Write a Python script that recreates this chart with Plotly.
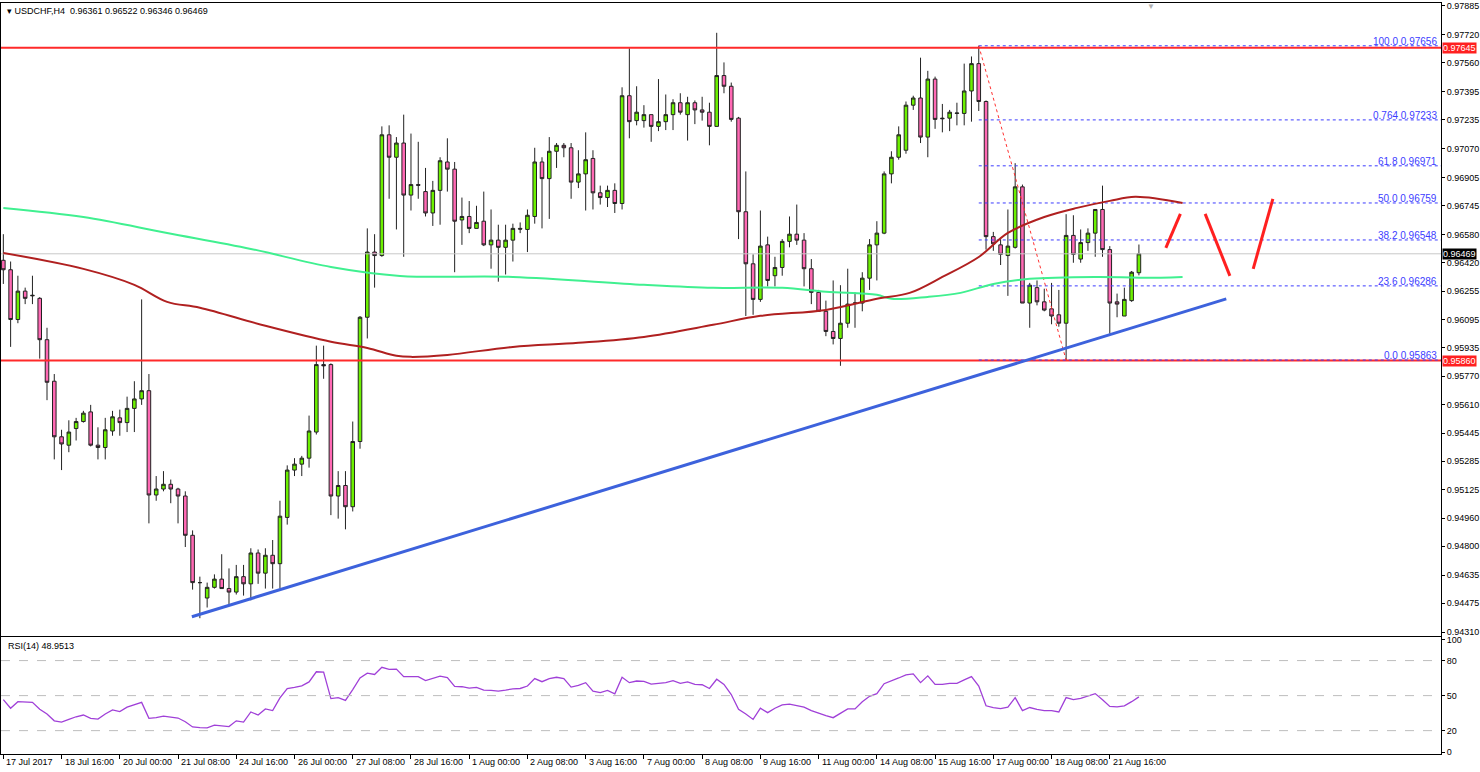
import plotly.graph_objects as go

# USDCHF H4 bars, index 0..156
open_ = [0.96432, 0.96378, 0.96094, 0.96256, 0.96229, 0.96215, 0.95979, 0.95742, 0.95425, 0.95377,
         0.95472, 0.95512, 0.95567, 0.95377, 0.95364, 0.95458, 0.95533, 0.95506, 0.95587, 0.95641,
         0.95688, 0.95093, 0.95127, 0.95154, 0.95127, 0.95087, 0.94863, 0.94593, 0.94505, 0.94566,
         0.94613, 0.94559, 0.94539, 0.94627, 0.94586, 0.94762, 0.94647, 0.94749, 0.94701, 0.94965,
         0.95235, 0.95269, 0.95303, 0.95452, 0.95837, 0.95837, 0.95087, 0.95147, 0.95026, 0.95398,
         0.96107, 0.96479, 0.96459, 0.97148, 0.97020, 0.97101, 0.96804, 0.96864, 0.96824, 0.96702,
         0.96831, 0.96993, 0.96952, 0.96662, 0.96682, 0.96614, 0.96655, 0.96520, 0.96547, 0.96506,
         0.96547, 0.96614, 0.96608, 0.96682, 0.96993, 0.96898, 0.97054, 0.97088, 0.97074, 0.96878,
         0.96925, 0.97013, 0.96817, 0.96790, 0.96831, 0.96756, 0.97371, 0.97229, 0.97229, 0.97263,
         0.97196, 0.97223, 0.97263, 0.97331, 0.97263, 0.97331, 0.97290, 0.97277, 0.97196, 0.97486,
         0.97425, 0.97243, 0.96709, 0.96412, 0.96209, 0.96520, 0.96344, 0.96391, 0.96540, 0.96581,
         0.96547, 0.96384, 0.96249, 0.96141, 0.96026, 0.95986, 0.96073, 0.96188, 0.96188, 0.96330,
         0.96520, 0.96587, 0.96925, 0.97020, 0.97060, 0.97317, 0.97358, 0.97135, 0.97466, 0.97243,
         0.97243, 0.97270, 0.97270, 0.97398, 0.97554, 0.97338, 0.96567, 0.96520, 0.96459, 0.96506,
         0.96851, 0.96188, 0.96276, 0.96195, 0.96155, 0.96121, 0.96073, 0.96574, 0.96439, 0.96533,
         0.96587, 0.96722, 0.96493, 0.96195, 0.96114, 0.96202, 0.96361]
high = [0.96581, 0.96425, 0.96344, 0.96276, 0.96344, 0.96222, 0.96047, 0.95783, 0.95465, 0.95519,
        0.95533, 0.95573, 0.95607, 0.95479, 0.95533, 0.95573, 0.95580, 0.95654, 0.95742, 0.96209,
        0.95783, 0.95201, 0.95229, 0.95181, 0.95134, 0.95114, 0.94891, 0.94627, 0.94593, 0.94640,
        0.94755, 0.94674, 0.94694, 0.94694, 0.94789, 0.94782, 0.94789, 0.94836, 0.95060, 0.95262,
        0.95303, 0.95316, 0.95546, 0.95945, 0.95945, 0.95844, 0.95229, 0.95229, 0.95512, 0.96114,
        0.96614, 0.96581, 0.97196, 0.97202, 0.97135, 0.97263, 0.97155, 0.97108, 0.96959, 0.96885,
        0.97020, 0.97128, 0.96993, 0.96790, 0.96770, 0.96743, 0.96824, 0.96722, 0.96635, 0.96635,
        0.96641, 0.96648, 0.96722, 0.97074, 0.97020, 0.97135, 0.97101, 0.97101, 0.97101, 0.97060,
        0.97162, 0.97060, 0.96858, 0.96858, 0.96871, 0.97419, 0.97642, 0.97425, 0.97317, 0.97263,
        0.97466, 0.97378, 0.97351, 0.97385, 0.97365, 0.97344, 0.97365, 0.97331, 0.97730, 0.97561,
        0.97446, 0.97250, 0.96939, 0.96466, 0.96716, 0.96567, 0.96452, 0.96553, 0.96682, 0.96750,
        0.96587, 0.96439, 0.96263, 0.96202, 0.96317, 0.96290, 0.96384, 0.96249, 0.96364, 0.96553,
        0.96655, 0.96939, 0.97054, 0.97196, 0.97338, 0.97371, 0.97588, 0.97513, 0.97480, 0.97324,
        0.97290, 0.97331, 0.97554, 0.97595, 0.97656, 0.97344, 0.96594, 0.96553, 0.96722, 0.96986,
        0.96864, 0.96303, 0.96317, 0.96270, 0.96303, 0.96263, 0.96695, 0.96689, 0.96608, 0.96614,
        0.96722, 0.96858, 0.96513, 0.96242, 0.96276, 0.96371, 0.96522]
low = [0.96297, 0.95938, 0.96073, 0.96182, 0.96182, 0.95871, 0.95634, 0.95296, 0.95235, 0.95337,
       0.95404, 0.95506, 0.95370, 0.95296, 0.95296, 0.95431, 0.95431, 0.95452, 0.95452, 0.95607,
       0.94931, 0.95060, 0.95114, 0.95046, 0.94931, 0.94796, 0.94553, 0.94390, 0.94451, 0.94559,
       0.94559, 0.94471, 0.94525, 0.94519, 0.94492, 0.94586, 0.94559, 0.94559, 0.94559, 0.94924,
       0.95201, 0.95201, 0.95249, 0.95438, 0.95756, 0.94978, 0.94958, 0.94897, 0.94999, 0.95357,
       0.95986, 0.96276, 0.96452, 0.96783, 0.96608, 0.96452, 0.96716, 0.96783, 0.96682, 0.96628,
       0.96635, 0.96824, 0.96364, 0.96520, 0.96587, 0.96614, 0.96513, 0.96384, 0.96310, 0.96351,
       0.96425, 0.96587, 0.96479, 0.96641, 0.96614, 0.96668, 0.96959, 0.97020, 0.96783, 0.96844,
       0.96716, 0.96722, 0.96750, 0.96736, 0.96702, 0.96722, 0.97128, 0.97202, 0.97189, 0.97108,
       0.97169, 0.97175, 0.97175, 0.97263, 0.97115, 0.97209, 0.97229, 0.97088, 0.97196, 0.97385,
       0.97223, 0.96553, 0.96114, 0.96121, 0.96195, 0.96283, 0.96283, 0.96344, 0.96506, 0.96520,
       0.96283, 0.96182, 0.96141, 0.95999, 0.95952, 0.95830, 0.96047, 0.96047, 0.96141, 0.96263,
       0.96317, 0.96581, 0.96871, 0.97006, 0.97040, 0.97290, 0.97101, 0.97020, 0.97182, 0.97162,
       0.97169, 0.97202, 0.97202, 0.97223, 0.97284, 0.96493, 0.96486, 0.96405, 0.96229, 0.96499,
       0.96188, 0.96047, 0.96175, 0.96141, 0.96067, 0.96053, 0.95863, 0.96418, 0.96418, 0.96486,
       0.96452, 0.96452, 0.96013, 0.96107, 0.96114, 0.96195, 0.96346]
close = [0.96378, 0.96094, 0.96256, 0.96215, 0.96232, 0.95979, 0.95736, 0.95425, 0.95384, 0.95452,
         0.95512, 0.95560, 0.95377, 0.95364, 0.95465, 0.95539, 0.95506, 0.95587, 0.95641, 0.95688,
         0.95093, 0.95127, 0.95154, 0.95127, 0.95087, 0.94863, 0.94593, 0.94593, 0.94566, 0.94613,
         0.94559, 0.94539, 0.94627, 0.94586, 0.94762, 0.94647, 0.94749, 0.94701, 0.94972, 0.95235,
         0.95269, 0.95303, 0.95458, 0.95837, 0.95830, 0.95087, 0.95147, 0.95026, 0.95398, 0.96107,
         0.96479, 0.96459, 0.97148, 0.97020, 0.97101, 0.96804, 0.96864, 0.96860, 0.96702, 0.96831,
         0.97000, 0.96952, 0.96655, 0.96682, 0.96614, 0.96648, 0.96520, 0.96547, 0.96506, 0.96547,
         0.96614, 0.96610, 0.96689, 0.96993, 0.96898, 0.97054, 0.97088, 0.97074, 0.96878, 0.96925,
         0.97006, 0.96817, 0.96790, 0.96831, 0.96756, 0.97371, 0.97223, 0.97277, 0.97263, 0.97196,
         0.97223, 0.97263, 0.97331, 0.97277, 0.97331, 0.97290, 0.97277, 0.97196, 0.97486, 0.97425,
         0.97236, 0.96709, 0.96412, 0.96209, 0.96513, 0.96317, 0.96391, 0.96540, 0.96581, 0.96547,
         0.96384, 0.96249, 0.96141, 0.96026, 0.95986, 0.96073, 0.96182, 0.96188, 0.96330, 0.96520,
         0.96587, 0.96925, 0.97020, 0.97148, 0.97317, 0.97358, 0.97135, 0.97466, 0.97236, 0.97240,
         0.97277, 0.97272, 0.97398, 0.97554, 0.97338, 0.96567, 0.96526, 0.96466, 0.96513, 0.96851,
         0.96188, 0.96290, 0.96195, 0.96148, 0.96114, 0.96073, 0.96574, 0.96466, 0.96533, 0.96587,
         0.96722, 0.96493, 0.96188, 0.96182, 0.96209, 0.96364, 0.96469]

rsi = [46.5, 39.2, 44.8, 44.2, 44.2, 38.3, 34.3, 28.4, 27.3, 29.6,
       31.9, 33.4, 30.5, 29.9, 34.3, 37.8, 36.3, 40.1, 42.1, 44.2,
       30.5, 31.1, 32.5, 31.6, 30.8, 27.6, 23.2, 22.6, 22.3, 24.7,
       23.8, 23.5, 28.4, 27.3, 36.0, 33.4, 38.6, 37.2, 48.0, 56.1,
       57.0, 58.4, 61.7, 70.4, 70.1, 47.4, 48.3, 45.9, 55.2, 65.1,
       69.2, 68.1, 74.2, 72.4, 72.7, 66.3, 66.3, 66.3, 62.8, 64.6,
       66.6, 65.4, 57.9, 57.6, 56.4, 57.0, 54.7, 54.4, 53.8, 54.7,
       55.8, 56.1, 58.2, 64.6, 61.9, 64.6, 65.7, 64.6, 57.3, 58.7,
       61.1, 53.8, 52.6, 54.4, 51.5, 65.7, 61.1, 62.5, 62.2, 59.9,
       60.5, 61.1, 62.8, 60.5, 61.7, 59.6, 59.3, 56.1, 64.0, 59.6,
       50.9, 38.3, 34.3, 29.6, 39.2, 35.4, 39.2, 42.1, 42.7, 41.3,
       40.1, 37.2, 34.9, 32.8, 31.1, 34.9, 38.6, 38.6, 44.8, 49.4,
       51.7, 60.2, 62.5, 65.1, 67.8, 68.6, 61.1, 66.9, 59.6, 59.6,
       60.5, 60.5, 63.4, 66.3, 58.2, 41.3, 39.8, 38.9, 40.1, 48.3,
       37.2, 39.8, 38.3, 37.2, 37.2, 36.0, 48.3, 46.5, 47.7, 49.4,
       51.7, 46.5, 40.7, 40.4, 41.3, 44.8, 48.95]

# moving averages, sampled off the chart (bar index, price)
ma_green_x = [0, 11, 22.5, 34, 45, 54.5, 70, 88, 97.5, 107, 113, 120, 122, 127, 131.5, 136, 141, 150, 159, 162]
ma_green_y = [0.96731, 0.96679, 0.96588, 0.96497, 0.96394, 0.96343, 0.96337, 0.96292, 0.96275, 0.96275,
              0.96252, 0.96235, 0.96212, 0.96223, 0.96246, 0.96297, 0.96326, 0.96337, 0.96332, 0.96337]
ma_red_x = [0, 11, 18, 22.5, 27, 36, 45, 50, 54, 56, 61, 70, 79, 88, 97.5, 104, 113, 120, 124.5, 129,
            134, 138, 143, 147.5, 152, 155.5, 162]
ma_red_y = [0.96474, 0.96383, 0.96292, 0.96195, 0.96161, 0.96058, 0.95967, 0.95932, 0.95887, 0.95881,
            0.95892, 0.95938, 0.95961, 0.95995, 0.96064, 0.96115, 0.96149, 0.96212, 0.96246, 0.96337,
            0.96451, 0.96588, 0.96679, 0.96731, 0.96771, 0.96794, 0.96759]

support_line = ([25.9, 168], [0.94398, 0.96212])
zigzag = [([159.7, 161.7], [0.96503, 0.96697]),
          ([165.1, 168.5], [0.96697, 0.96343]),
          ([171.7, 174.4], [0.96383, 0.96782])]

resistance = 0.97645
support = 0.95860
bid = 0.96469
fib_start, fib_end = 134, 146
fib_levels = [("100.0", 0.97656), ("0.764", 0.97233), ("61.8", 0.96971), ("50.0", 0.96759),
              ("38.2", 0.96548), ("23.6", 0.96286), ("0.0", 0.95863)]

price_ticks = [0.97885, 0.97720, 0.97560, 0.97395, 0.97235, 0.97070, 0.96905, 0.96745, 0.96580, 0.96420,
               0.96255, 0.96095, 0.95935, 0.95770, 0.95610, 0.95445, 0.95285, 0.95125, 0.94960, 0.94800,
               0.94635, 0.94475, 0.94310]
date_labels = ["17 Jul 2017", "18 Jul 16:00", "20 Jul 00:00", "21 Jul 08:00", "24 Jul 16:00",
               "26 Jul 00:00", "27 Jul 08:00", "28 Jul 16:00", "1 Aug 00:00", "2 Aug 08:00",
               "3 Aug 16:00", "7 Aug 00:00", "8 Aug 08:00", "9 Aug 16:00", "11 Aug 00:00",
               "14 Aug 08:00", "15 Aug 16:00", "17 Aug 00:00", "18 Aug 08:00", "21 Aug 16:00"]

bars = list(range(len(close)))
XMIN, XMAX = -0.32, 197.5
FONT = "Liberation Sans"

fig = go.Figure()

# horizontal levels
fig.add_trace(go.Scatter(x=[XMIN, XMAX], y=[bid, bid], mode='lines',
                         line=dict(color='#c8c8c8', width=1), hoverinfo='skip'))
for lvl in (resistance, support):
    fig.add_trace(go.Scatter(x=[XMIN, XMAX], y=[lvl, lvl], mode='lines',
                             line=dict(color='#ff2a2a', width=2), hoverinfo='skip'))
for name, lvl in fib_levels:
    fig.add_trace(go.Scatter(x=[fib_start, XMAX], y=[lvl, lvl], mode='lines',
                             line=dict(color='#3c3cff', width=1, dash='dot'), hoverinfo='skip'))
fig.add_trace(go.Scatter(x=[fib_start, fib_end], y=[fib_levels[0][1], fib_levels[-1][1]], mode='lines',
                         line=dict(color='#ff3030', width=1, dash='dot'), hoverinfo='skip'))

# moving averages
fig.add_trace(go.Scatter(x=ma_green_x, y=ma_green_y, mode='lines', line_shape='spline',
                         line=dict(color='#40f090', width=2)))
fig.add_trace(go.Scatter(x=ma_red_x, y=ma_red_y, mode='lines', line_shape='spline',
                         line=dict(color='#b02020', width=2)))

# candles
fig.add_trace(go.Candlestick(
    x=bars, open=open_, high=high, low=low, close=close, whiskerwidth=0,
    increasing=dict(fillcolor='#6cf000', line=dict(color='#222222', width=1)),
    decreasing=dict(fillcolor='#ff69b4', line=dict(color='#222222', width=1)),
))

# trend line and projection
fig.add_trace(go.Scatter(x=support_line[0], y=support_line[1], mode='lines',
                         line=dict(color='#3d62dc', width=3)))
for sx, sy in zigzag:
    fig.add_trace(go.Scatter(x=sx, y=sy, mode='lines', line=dict(color='#ff2020', width=3)))

# RSI
fig.add_trace(go.Scatter(x=bars, y=rsi, mode='lines', xaxis='x2', yaxis='y2',
                         line=dict(color='#a040d8', width=1.3)))
for lvl in (80, 50, 20):
    fig.add_trace(go.Scatter(x=[XMIN, XMAX], y=[lvl, lvl], mode='lines', xaxis='x2', yaxis='y2',
                             line=dict(color='#bdbdbd', width=1, dash='dash'), hoverinfo='skip'))

ann = []
ann.append(dict(xref='paper', yref='paper', x=0, y=1, xanchor='left', yanchor='top', xshift=4, yshift=-1,
                text='▾ USDCHF,H4  0.96361 0.96522 0.96346 0.96469', showarrow=False,
                font=dict(size=9, color='black', family=FONT)))
ann.append(dict(xref='paper', yref='paper', x=0, y=0.1558, xanchor='left', yanchor='top', xshift=5, yshift=-2,
                text='RSI(14) 48.9513', showarrow=False, font=dict(size=9, color='black', family=FONT)))
for name, lvl in fib_levels:
    ann.append(dict(xref='x', yref='y', x=197.2, y=lvl, xanchor='right', yanchor='bottom', yshift=-3,
                    text=f'{name} {lvl:.5f}', showarrow=False, font=dict(size=10, color='#3c3cff', family=FONT)))
for lvl, bg in ((resistance, '#ff2020'), (support, '#ff2020'), (bid, '#000000')):
    ann.append(dict(xref='paper', yref='y', x=1, y=lvl, xanchor='left', yanchor='middle', xshift=1,
                    text=f'{lvl:.5f}', showarrow=False, bgcolor=bg, borderpad=0,
                    font=dict(size=9, color='white', family=FONT)))
for i, lab in enumerate(date_labels):
    ann.append(dict(xref='x2', yref='paper', x=i * 8, y=0, xanchor='left', yanchor='top', xshift=1, yshift=-1,
                    text=lab, showarrow=False, font=dict(size=9, color='black', family=FONT)))
ann.append(dict(xref='x', yref='paper', x=157.7, y=1, xanchor='center', yanchor='top', yshift=3,
                text='▼', showarrow=False, font=dict(size=8, color='#b0b0b0')))

fig.update_layout(
    width=1480, height=772, margin=dict(l=1, r=39, t=3, b=18, autoexpand=False),
    paper_bgcolor='white', plot_bgcolor='white', showlegend=False,
    font=dict(family=FONT, size=9, color='black'),
    annotations=ann,
    xaxis=dict(range=[XMIN, XMAX], domain=[0, 1], anchor='y', rangeslider_visible=False,
               showticklabels=False, showgrid=False, zeroline=False, showline=True, mirror=True,
               linecolor='black', linewidth=1, ticks=''),
    yaxis=dict(range=[0.94290, 0.97900], domain=[0.1575, 1], side='right', tickvals=price_ticks,
               tickformat='.5f', ticks='outside', ticklen=3, tickcolor='black', showgrid=False,
               zeroline=False, showline=True, mirror=True, linecolor='black', linewidth=1,
               tickfont=dict(size=9, family=FONT)),
    xaxis2=dict(range=[XMIN, XMAX], domain=[0, 1], anchor='y2', tickvals=[i * 8 for i in range(len(date_labels))],
                showticklabels=False, ticks='outside', ticklen=4, tickcolor='black', showgrid=False,
                zeroline=False, showline=True, mirror=True, linecolor='black', linewidth=1),
    yaxis2=dict(range=[0, 100], domain=[0, 0.1555], anchor='x2', side='right',
                tickvals=[1.5, 20, 50, 80, 98], ticktext=['0', '20', '50', '80', '100'],
                ticks='outside', ticklen=3, tickcolor='black', showgrid=False, zeroline=False,
                showline=True, mirror=True, linecolor='black', linewidth=1, tickfont=dict(size=9, family=FONT)),
)

# drop the browser's default page margin so the figure sits at 0,0
fig.write_html("out.html", config={'displayModeBar': False},
               post_script="document.body.style.margin='0';document.body.style.overflow='hidden';")
